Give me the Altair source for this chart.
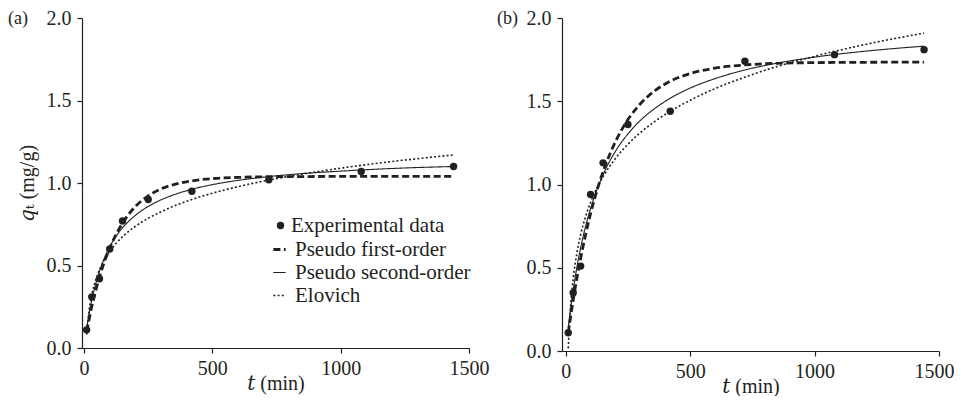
import altair as alt
import pandas as pd

INK = "#231f20"
FONT = "Liberation Serif"
TFONT = "Liberation Serif, DejaVu Serif, serif"

SERIES = ["Experimental data", "Pseudo first-order", "Pseudo second-order", "Elovich"]

# experimental data (min, mg/g)
T_EXP = [10, 30, 60, 100, 150, 250, 420, 720, 1080, 1440]
Q_EXP_A = [0.11, 0.31, 0.42, 0.60, 0.77, 0.90, 0.95, 1.02, 1.07, 1.10]
Q_EXP_B = [0.11, 0.35, 0.51, 0.94, 1.13, 1.36, 1.44, 1.74, 1.78, 1.81]

# fitted model curves
T_FIT = [10, 20, 30, 45, 60, 80, 100, 130, 160, 200, 250, 300, 360, 420, 500, 600, 720, 850, 1000, 1200, 1440]
PFO_A = [0.100, 0.175, 0.250, 0.345, 0.430, 0.525, 0.605, 0.704, 0.781, 0.857, 0.922, 0.964, 0.995, 1.013, 1.027, 1.034, 1.038, 1.039, 1.040, 1.040, 1.040]
PSO_A = [0.116, 0.211, 0.290, 0.387, 0.465, 0.548, 0.613, 0.689, 0.746, 0.804, 0.858, 0.898, 0.934, 0.962, 0.990, 1.016, 1.039, 1.057, 1.072, 1.088, 1.100]
ELO_A = [0.081, 0.233, 0.322, 0.411, 0.474, 0.537, 0.586, 0.643, 0.689, 0.738, 0.786, 0.826, 0.866, 0.900, 0.938, 0.978, 1.018, 1.054, 1.090, 1.130, 1.170]

PFO_B = [0.109, 0.210, 0.306, 0.438, 0.557, 0.700, 0.826, 0.986, 1.118, 1.258, 1.390, 1.485, 1.565, 1.620, 1.666, 1.699, 1.718, 1.728, 1.732, 1.734, 1.735]
PSO_B = [0.140, 0.261, 0.367, 0.505, 0.621, 0.750, 0.857, 0.987, 1.091, 1.200, 1.304, 1.385, 1.459, 1.518, 1.579, 1.636, 1.688, 1.729, 1.765, 1.800, 1.831]
ELO_B = [0.016, 0.280, 0.435, 0.589, 0.699, 0.808, 0.893, 0.993, 1.072, 1.157, 1.242, 1.312, 1.381, 1.440, 1.506, 1.576, 1.645, 1.709, 1.770, 1.840, 1.909]

X_TICKS = [0, 500, 1000, 1500]
Y_TICKS = [0, 0.5, 1.0, 1.5, 2.0]

LINE_LEG = alt.Legend(
    title=None, orient="none", legendX=187, legendY=221,
    labelFont=FONT, labelFontSize=21, labelColor=INK, rowPadding=1, labelOffset=5,
    labelLimit=400, symbolSize=150, symbolStrokeColor=INK,
)
POINT_LEG = alt.Legend(
    title=None, orient="none", legendX=188, legendY=197,
    labelFont=FONT, labelFontSize=21, labelColor=INK, labelOffset=0,
    labelLimit=400, symbolSize=55, symbolFillColor=INK,
)

MODELS = SERIES[1:]
DASH = alt.Scale(domain=MODELS, range=[[7, 3.5], [1, 0], [2, 2.2]])
WIDTH = alt.Scale(type="ordinal", domain=MODELS, range=[2.8, 1.1, 1.6])
SHAPE = alt.Scale(domain=SERIES[:1], range=["circle"])


def panel(label, q_exp, pfo, pso, elo, width, height, xmin, ytitle, title_dx, last_right):
    exp_df = pd.DataFrame({"t": T_EXP, "q": q_exp, "series": SERIES[0]})
    fit_df = pd.concat([
        pd.DataFrame({"t": T_FIT, "q": pfo, "series": SERIES[1]}),
        pd.DataFrame({"t": T_FIT, "q": pso, "series": SERIES[2]}),
        pd.DataFrame({"t": T_FIT, "q": elo, "series": SERIES[3]}),
    ])
    xaxis_kw = dict(values=X_TICKS, title="𝑡 (min)", format="d")
    if last_right:
        xaxis_kw["labelAlign"] = alt.condition("datum.value == 1500", alt.value("right"), alt.value("center"))
        xaxis_kw["labelOffset"] = alt.condition("datum.value == 1500", alt.value(15), alt.value(0))
    x = alt.X("t:Q", scale=alt.Scale(domain=[xmin, 1500], nice=False, zero=False),
              axis=alt.Axis(**xaxis_kw))
    yaxis = alt.Axis(values=Y_TICKS, format=".1f", title=ytitle) if ytitle else alt.Axis(values=Y_TICKS, format=".1f", title=None)
    y = alt.Y("q:Q", scale=alt.Scale(domain=[0, 2], nice=False), axis=yaxis)
    lines = alt.Chart(fit_df).mark_line(color=INK, interpolate="monotone").encode(
        x=x, y=y,
        strokeDash=alt.StrokeDash("series:N", scale=DASH, legend=LINE_LEG),
        strokeWidth=alt.StrokeWidth("series:N", scale=WIDTH, legend=LINE_LEG),
    )
    points = alt.Chart(exp_df).mark_point(filled=True, color=INK, opacity=1, size=55).encode(
        x=x, y=y,
        shape=alt.Shape("series:N", scale=SHAPE, legend=POINT_LEG),
    )
    return alt.layer(lines, points).properties(
        width=width, height=height,
        title=alt.TitleParams(label, anchor="start", frame="bounds", fontSize=18,
                              font=FONT, fontWeight="normal", color=INK,
                              dx=title_dx, dy=20, offset=0),
    )


a = panel("(a)", Q_EXP_A, PFO_A, PSO_A, ELO_A, 387, 330, -8, "𝑞ₜ (mg/g)", -9, False)
b = panel("(b)", Q_EXP_B, PFO_B, PSO_B, ELO_B, 377, 333, -15, None, -29, True)

chart = alt.hconcat(a, b, spacing=8).configure_view(stroke=None).configure_axis(
    grid=False, domainColor=INK, tickColor=INK, domainWidth=1.2, tickWidth=1.2, tickSize=5,
    labelFont=FONT, labelFontSize=20, labelColor=INK, labelPadding=6, labelFlush=False,
    titleFont=TFONT, titleFontSize=20, titleColor=INK, titleFontWeight="normal",
).configure_axisX(labelPadding=5, titlePadding=-5).configure_axisY(titlePadding=9).properties(
    padding={"left": 8, "top": 8, "right": 0, "bottom": 0}
)

chart.save("out.html", embed_options={"renderer": "svg", "actions": False})
